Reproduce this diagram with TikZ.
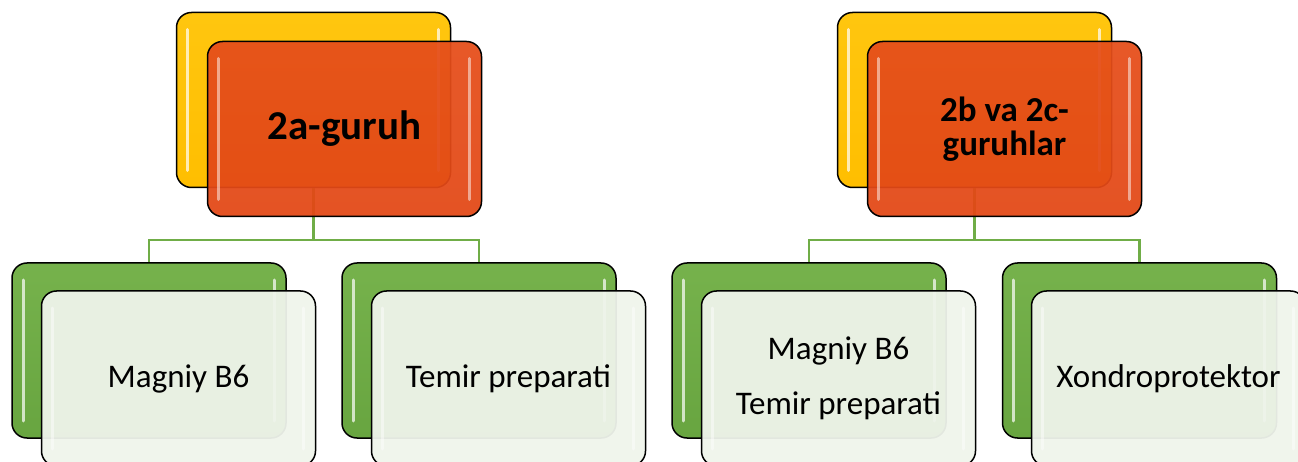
\documentclass[tikz,border=0pt]{standalone}
\usepackage{fontspec}
\setmainfont{Carlito}
\definecolor{cyel}{RGB}{255,190,0}
\definecolor{cyellt}{RGB}{255,198,15}
\definecolor{cred}{RGB}{226,72,22}
\definecolor{credlt}{RGB}{229,78,26}
\definecolor{cgrn}{RGB}{104,165,64}
\definecolor{cgrnlt}{RGB}{118,178,76}
\definecolor{cwht}{RGB}{239,244,235}
\definecolor{cline}{RGB}{112,173,71}
\tikzset{
  box/.style={rectangle, rounded corners=15pt, draw=black, line width=1.5pt,
    minimum width=274pt, minimum height=175pt, inner sep=0pt, align=center},
  gloss/.style={path picture={
    \draw[white, opacity=#1, line width=3pt, line cap=round]
      ([xshift=11pt,yshift=-17pt]path picture bounding box.north west) --
      ([xshift=11pt,yshift=17pt]path picture bounding box.south west);
    \draw[white, opacity=#1, line width=3pt, line cap=round]
      ([xshift=-12pt,yshift=-17pt]path picture bounding box.north east) --
      ([xshift=-12pt,yshift=17pt]path picture bounding box.south east);
  }},
  yelbox/.style={box, top color=cyellt, bottom color=cyel, gloss=0.7},
  redbox/.style={box, top color=credlt, bottom color=cred, fill opacity=0.94, text opacity=1, gloss=0.5},
  grnbox/.style={box, top color=cgrnlt, bottom color=cgrn, gloss=0.7},
  whtbox/.style={box, fill=cwht, fill opacity=0.95, text opacity=1, gloss=0.45},
  conn/.style={draw=cline, line width=2.4pt},
}
\begin{document}
\begin{tikzpicture}[x=1pt,y=-1pt]
\useasboundingbox (0,0) rectangle (1298,462);
\coordinate (h) at (0,240);
% top-left group
\node[yelbox] (y1) at (313.5,100) {};
\node[grnbox] (g1) at (149,350.5) {};
\node[grnbox] (g2) at (479,350.5) {};
\draw[conn] (y1.south) -- (y1.south |- h);
\draw[conn] (g1.north) -- (g1.north |- h) -- (g2.north |- h) -- (g2.north);
\node[redbox, font=\bfseries\fontsize{41}{40}\selectfont] (r1) at (344.5,129) {2a-guruh};
\node[whtbox, font=\fontsize{33}{38}\selectfont] (w1) at (178.5,378.5) {Magniy B6};
\node[whtbox, font=\fontsize{33}{38}\selectfont] (w2) at (508.5,378.5) {Temir preparati};
% right group
\node[yelbox] (y2) at (974.5,100) {};
\node[grnbox] (g3) at (809,350.5) {};
\node[grnbox] (g4) at (1139.5,350.5) {};
\draw[conn] (y2.south) -- (y2.south |- h);
\draw[conn] (g3.north) -- (g3.north |- h) -- (g4.north |- h) -- (g4.north);
\node[redbox, font=\bfseries\fontsize{35}{34}\selectfont] (r2) at (1004.5,129) {2b va 2c-\\guruhlar};
\node[whtbox, font=\fontsize{33}{55}\selectfont] (w3) at (838.5,378.5) {Magniy B6\\Temir preparati};
\node[whtbox, font=\fontsize{33}{38}\selectfont] (w4) at (1168.5,378.5) {Xondroprotektor};
\end{tikzpicture}
\end{document}
